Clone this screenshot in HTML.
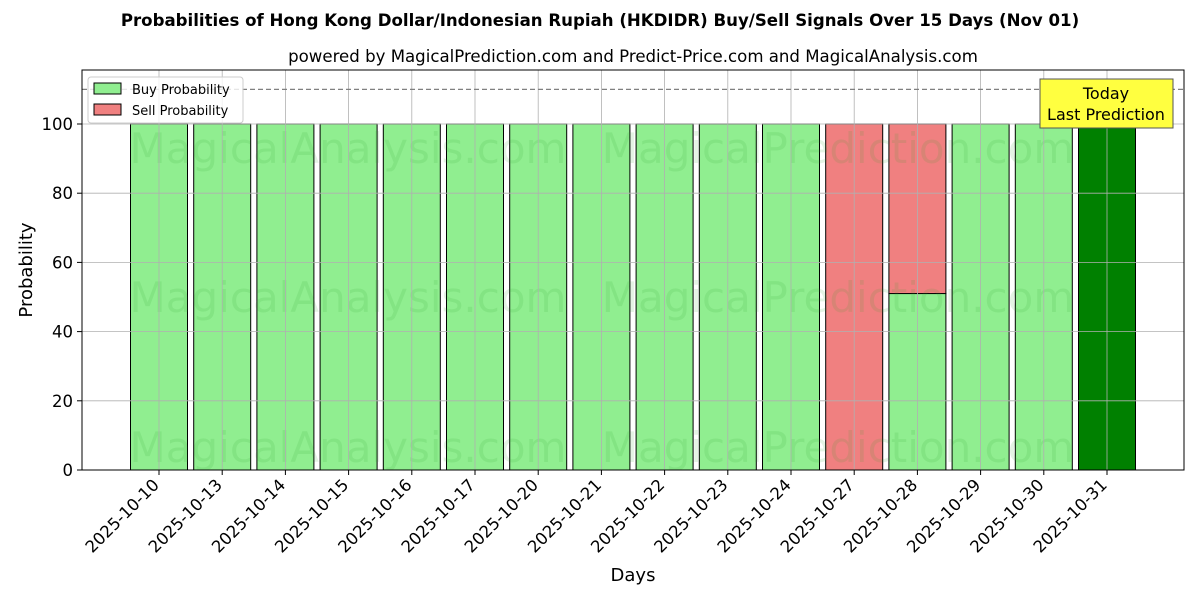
<!DOCTYPE html>
<html><head><meta charset="utf-8"><style>
body{margin:0;background:#fff;font-family:"Liberation Sans","DejaVu Sans",sans-serif}
</style></head><body>
<svg id="c" width="1200" height="600" xmlns="http://www.w3.org/2000/svg" font-family="DejaVu Sans, Liberation Sans, sans-serif">
<text x="600" y="26" text-anchor="middle" font-size="16.6" font-weight="bold">Probabilities of Hong Kong Dollar/Indonesian Rupiah (HKDIDR) Buy/Sell Signals Over 15 Days (Nov 01)</text>
<text x="633" y="62" text-anchor="middle" font-size="16.6">powered by MagicalPrediction.com and Predict-Price.com and MagicalAnalysis.com</text>
<g id="bars"></g>
<g id="wm" fill="#2ca02c" opacity="0.12" font-size="42" text-anchor="middle">
<text x="348" y="163">MagicalAnalysis.com</text>
<text x="838" y="163">MagicalPrediction.com</text>
<text x="348" y="312">MagicalAnalysis.com</text>
<text x="838" y="312">MagicalPrediction.com</text>
<text x="348" y="462">MagicalAnalysis.com</text>
<text x="838" y="462">MagicalPrediction.com</text>
</g>
<g id="grid"></g>
<g id="axes"></g>
<text x="633" y="581" text-anchor="middle" font-size="18">Days</text>
<text transform="translate(32,270) rotate(-90)" text-anchor="middle" font-size="18">Probability</text>
<g>
<rect x="88" y="77" width="155" height="46" rx="3" fill="#fff" fill-opacity="0.8" stroke="#ccc"/>
<rect x="94" y="83" width="27" height="11" fill="#90ee90" stroke="#000"/>
<text x="132" y="94" font-size="13">Buy Probability</text>
<rect x="94" y="104" width="27" height="11" fill="#f08080" stroke="#000"/>
<text x="132" y="115" font-size="13">Sell Probability</text>
</g>
<g>
<rect x="1040" y="79" width="133" height="49" fill="#ffff40" stroke="#555"/>
<text x="1106" y="99" text-anchor="middle" font-size="16">Today</text>
<text x="1106" y="120" text-anchor="middle" font-size="16">Last Prediction</text>
</g>
</svg>
<script>
const categories=["2025-10-10","2025-10-13","2025-10-14","2025-10-15","2025-10-16","2025-10-17","2025-10-20","2025-10-21","2025-10-22","2025-10-23","2025-10-24","2025-10-27","2025-10-28","2025-10-29","2025-10-30","2025-10-31"];
const buyValues=[100,100,100,100,100,100,100,100,100,100,100,0,51,100,100,100];
const sellValues=[0,0,0,0,0,0,0,0,0,0,0,100,49,0,0,0];
const yTicks=[0,20,40,60,80,100];
const NS="http://www.w3.org/2000/svg";
const L=82,R=1184,T=70,B=470;
const y=v=>B-v*3.46;
const x=i=>159+i*63.2;
const bw=57;
function mk(p,tag,a){const e=document.createElementNS(NS,tag);for(const k in a)e.setAttribute(k,a[k]);p.appendChild(e);return e;}
const bars=document.getElementById('bars'),grid=document.getElementById('grid'),axes=document.getElementById('axes');
categories.forEach((c,i)=>{
  const last=i===categories.length-1;
  if(buyValues[i]>0){
    const r=mk(bars,'rect',{x:x(i)-bw/2,y:y(buyValues[i]),width:bw,height:y(0)-y(buyValues[i]),fill:last?'#008000':'#90ee90',stroke:'#000','stroke-width':1});
    
    
  }
  if(sellValues[i]>0){
    const r=mk(bars,'rect',{x:x(i)-bw/2,y:y(buyValues[i]+sellValues[i]),width:bw,height:y(buyValues[i])-y(buyValues[i]+sellValues[i]),fill:'#f08080',stroke:'#000','stroke-width':1});
    
    
  }
  mk(grid,'line',{x1:x(i),x2:x(i),y1:T,y2:B,stroke:'#b0b0b0','stroke-width':0.8});
  mk(axes,'line',{x1:x(i),x2:x(i),y1:B,y2:B+5,stroke:'#000'});
  const t=mk(axes,'text',{transform:`translate(${x(i)+1},${B+16}) rotate(-45)`,'text-anchor':'end','font-size':16.5});
  t.textContent=c;
  
  
});
yTicks.forEach(v=>{
  mk(grid,'line',{x1:L,x2:R,y1:y(v),y2:y(v),stroke:'#b0b0b0','stroke-width':0.8});
  mk(axes,'line',{x1:L-5,x2:L,y1:y(v),y2:y(v),stroke:'#000'});
  const t=mk(axes,'text',{x:L-9,y:y(v)+6,'text-anchor':'end','font-size':16.5});
  t.textContent=v;
  
  
});
mk(grid,'line',{x1:L,x2:R,y1:y(110),y2:y(110),stroke:'#808080','stroke-width':1.2,'stroke-dasharray':'5,3'});
const f=mk(axes,'rect',{x:L,y:T,width:R-L,height:B-T,fill:'none',stroke:'#000','stroke-width':1});


</script>
</body></html>
